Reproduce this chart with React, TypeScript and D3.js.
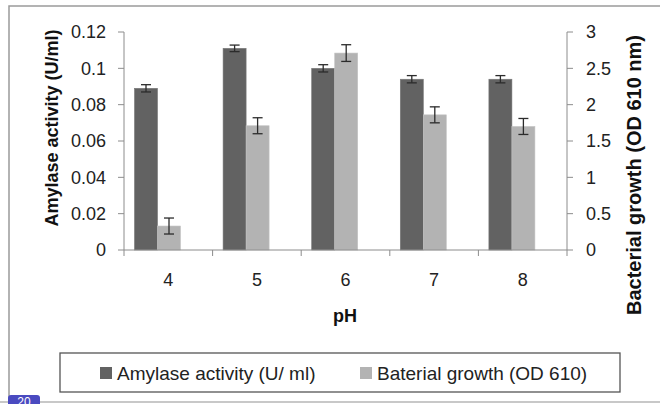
import React from "react";
import * as d3 from "d3";

const categories = ["4", "5", "6", "7", "8"];
const amylase = [0.089, 0.111, 0.1, 0.094, 0.094];
const amylaseErr = [0.002, 0.0018, 0.002, 0.002, 0.002];
const growth = [0.33, 1.71, 2.71, 1.86, 1.7];
const growthErr = [0.11, 0.11, 0.115, 0.11, 0.11];
const leftTicks = [0, 0.02, 0.04, 0.06, 0.08, 0.1, 0.12];
const rightTicks = [0, 0.5, 1, 1.5, 2, 2.5, 3];
const leftTitle = "Amylase activity (U/ml)";
const rightTitle = "Bacterial growth (OD 610 nm)";
const xTitle = "pH";
const legendLabels = ["Amylase activity (U/ ml)", "Baterial growth (OD 610)"];

const W = 660;
const H = 404;
const M = { left: 124, right: 567, top: 32, bottom: 250 };
const DARK = "#626262";
const LIGHT = "#b3b3b3";
const AXIS = "#8c8c8c";
const FONT = "'Liberation Sans', Arial, sans-serif";

export default function App() {
  const x = d3.scaleBand<string>().domain(categories).range([M.left, M.right]).paddingInner(0).paddingOuter(0);
  const x1 = d3.scaleBand<string>().domain(["a", "g"]).range([10.5, 56.5]);
  const yL = d3.scaleLinear().domain([0, 0.12]).range([M.bottom, M.top]);
  const yR = d3.scaleLinear().domain([0, 3]).range([M.bottom, M.top]);
  const bw = x1.bandwidth();
  const boundaries = [...categories.map((c) => x(c)!), M.right];

  const errBar = (cx: number, v: number, e: number, y: d3.ScaleLinear<number, number>, key: string) => {
    const y1 = y(v + e);
    const y2 = y(v - e);
    return (
      <g key={key} stroke="#2b2b2b" strokeWidth={1.3}>
        <line x1={cx} x2={cx} y1={y1} y2={y2} />
        <line x1={cx - 5} x2={cx + 5} y1={y1} y2={y1} />
        <line x1={cx - 5} x2={cx + 5} y1={y2} y2={y2} />
      </g>
    );
  };

  return (
    <svg width={W} height={H} style={{ position: "absolute", left: 0, top: 0, background: "#fff" }}>
      {/* outer frame */}
      <rect x={9} y={6} width={W} height={H + 10} fill="#fff" stroke="#9a9a9a" strokeWidth={1.5} />
      <line x1={0} x2={W} y1={402} y2={402} stroke="#c8c8c8" strokeWidth={2} />

      {/* bars */}
      {categories.map((c, i) => {
        const x0 = x(c)!;
        const xa = x0 + x1("a")!;
        const xg = x0 + x1("g")!;
        return (
          <g key={c}>
            <rect x={xa} y={yL(amylase[i])} width={bw} height={yL(0) - yL(amylase[i])} fill={DARK} stroke="#777" strokeWidth={0.6} />
            <rect x={xg} y={yR(growth[i])} width={bw} height={yR(0) - yR(growth[i])} fill={LIGHT} stroke="#c4c4c4" strokeWidth={0.6} />
            {errBar(xa + bw / 2, amylase[i], amylaseErr[i], yL, "ea" + c)}
            {errBar(xg + bw / 2, growth[i], growthErr[i], yR, "eg" + c)}
          </g>
        );
      })}

      {/* axes */}
      <g stroke={AXIS} strokeWidth={1}>
        <line x1={M.left} x2={M.left} y1={M.top} y2={M.bottom} />
        <line x1={M.right} x2={M.right} y1={M.top} y2={M.bottom} />
        <line x1={M.left} x2={M.right} y1={M.bottom} y2={M.bottom} />
        {leftTicks.map((t) => (
          <line key={"lt" + t} x1={M.left - 6} x2={M.left} y1={yL(t)} y2={yL(t)} />
        ))}
        {rightTicks.map((t) => (
          <line key={"rt" + t} x1={M.right} x2={M.right + 6} y1={yR(t)} y2={yR(t)} />
        ))}
        {boundaries.map((b, i) => (
          <line key={"xt" + i} x1={b} x2={b} y1={M.bottom} y2={M.bottom + 6} />
        ))}
      </g>

      <g fontFamily={FONT} fontSize={18} fill="#222">
        {leftTicks.map((t) => (
          <text key={"ll" + t} x={M.left - 18} y={yL(t)} dy="0.35em" textAnchor="end">
            {d3.format("")(t)}
          </text>
        ))}
        {rightTicks.map((t) => (
          <text key={"rl" + t} x={M.right + 19} y={yR(t)} dy="0.35em" textAnchor="start">
            {d3.format("")(t)}
          </text>
        ))}
        {categories.map((c) => (
          <text key={"cl" + c} x={x(c)! + x.bandwidth() / 2} y={280} dy="0.35em" textAnchor="middle">
            {c}
          </text>
        ))}
      </g>

      {/* titles */}
      <g fontFamily={FONT} fontWeight="bold" fill="#111">
        <text x={345} y={316} dy="0.35em" textAnchor="middle" fontSize={18}>{xTitle}</text>
        <text transform={`translate(52,128) rotate(-90)`} dy="0.35em" textAnchor="middle" fontSize={18}>{leftTitle}</text>
        <text transform={`translate(634,175) rotate(-90)`} dy="0.35em" textAnchor="middle" fontSize={20}>{rightTitle}</text>
      </g>

      {/* legend */}
      <rect x={60} y={353} width={560} height={39} fill="#fff" stroke="#555" strokeWidth={1.3} />
      <g fontFamily={FONT} fontSize={19} fill="#222">
        <rect x={100} y={367} width={12} height={12} fill={DARK} />
        <text x={117} y={373} dy="0.35em">{legendLabels[0]}</text>
        <rect x={360} y={367} width={12} height={12} fill={LIGHT} />
        <text x={377} y={373} dy="0.35em">{legendLabels[1]}</text>
      </g>

      {/* page badge */}
      <rect x={8} y={395} width={32} height={16} rx={3} fill="#4a4ac0" />
      <text x={24} y={406} fontFamily={FONT} fontSize={12} fill="#fff" textAnchor="middle">20</text>
    </svg>
  );
}
